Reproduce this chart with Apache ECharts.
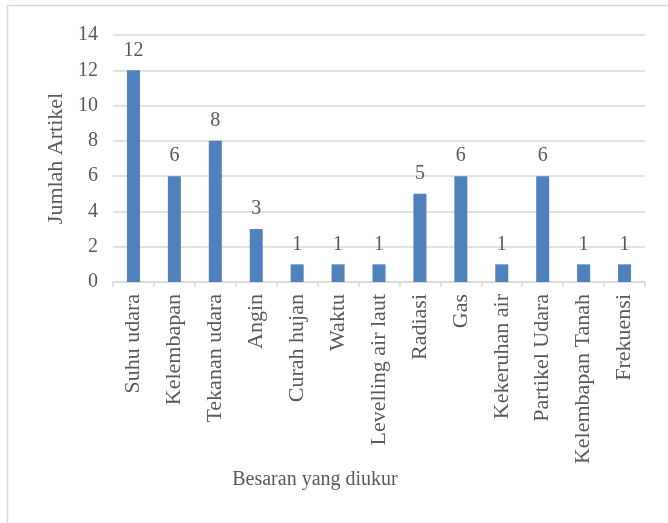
<!DOCTYPE html>
<html>
<head>
<meta charset="utf-8">
<script src="https://cdn.jsdelivr.net/npm/echarts@6/dist/echarts.min.js"></script>
<style>
  html, body { margin: 0; padding: 0; background: #fff; }
  #charts { width: 668px; height: 523px; }
</style>
</head>
<body>
<div id="charts"></div>
<script>
// data
const categories = ['Suhu udara', 'Kelembapan', 'Tekanan udara', 'Angin', 'Curah hujan', 'Waktu',
  'Levelling air laut', 'Radiasi', 'Gas', 'Kekeruhan air', 'Partikel Udara', 'Kelembapan Tanah', 'Frekuensi']
const jumlah = [12, 6, 8, 3, 1, 1, 1, 5, 6, 1, 6, 1, 1]

const font = 'Liberation Serif, Times New Roman, serif'
const textColor = '#595959'

let myChart = echarts.init(document.getElementById('charts'))
let option = {
  animation: false,
  textStyle: { fontFamily: font },
  grid: { left: 113, right: 23, top: 35, bottom: 241 },
  graphic: [
    {
      type: 'rect',
      shape: { x: 7.5, y: 5.5, width: 700, height: 600 },
      style: { fill: 'none', stroke: '#d9d9d9', lineWidth: 1.5 }
    },
    {
      type: 'text',
      x: 315, y: 480,
      style: {
        text: 'Besaran yang diukur', fill: textColor, font: '20px ' + font,
        align: 'center', verticalAlign: 'middle'
      }
    }
  ],
  xAxis: {
    type: 'category',
    data: categories,
    axisLine: { lineStyle: { color: '#d9d9d9', width: 1.5 } },
    axisTick: { show: true, length: 5, lineStyle: { color: '#d9d9d9', width: 1.5 } },
    axisLabel: { rotate: 90, color: textColor, fontSize: 22, fontFamily: font, margin: 12, interval: 0 }
  },
  yAxis: {
    type: 'value',
    min: 0, max: 14, interval: 2,
    name: 'Jumlah Artikel',
    nameLocation: 'middle',
    nameGap: 44,
    nameTextStyle: { color: textColor, fontSize: 22, fontFamily: font },
    axisLine: { show: false },
    axisTick: { show: false },
    axisLabel: { color: textColor, fontSize: 20, fontFamily: font, margin: 15 },
    splitLine: { lineStyle: { color: '#d9d9d9', width: 1.5 } }
  },
  series: [{
    type: 'bar',
    data: jumlah,
    barWidth: 13,
    itemStyle: { color: '#4f81bd' },
    label: { show: true, position: 'top', distance: 10, color: textColor, fontSize: 20, fontFamily: font }
  }]
}
myChart.setOption(option)
</script>
</body>
</html>
